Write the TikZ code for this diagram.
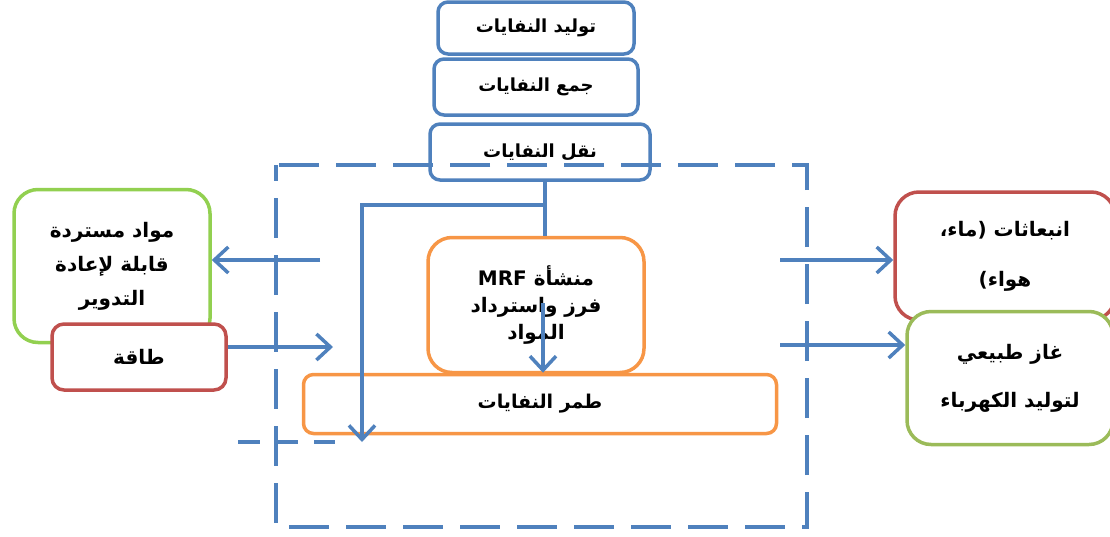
\documentclass[tikz,border=0pt]{standalone}
\usepackage{fontspec}
\newfontfamily\arabicfont[Script=Arabic]{DejaVu Sans}
\TeXXeTstate=1
\usetikzlibrary{arrows.meta, positioning}
\definecolor{procblue}{HTML}{4F81BD}
\definecolor{mrforange}{HTML}{F79646}
\definecolor{outred}{HTML}{C0504D}
\definecolor{recgreen}{HTML}{92D050}
\definecolor{gasgreen}{HTML}{9BBB59}

\begin{document}
\begin{tikzpicture}[
    x=1pt, y=-1pt,
    box/.style  ={draw, line width=3.5pt, fill=white, align=center,
                  inner sep=0pt, font=\arabicfont\bfseries\fontsize{18}{20}\selectfont},
    stage/.style={box, draw=procblue, rounded corners=10pt},
    plant/.style={box, draw=mrforange, font=\arabicfont\bfseries\fontsize{20}{33}\selectfont},
    side/.style ={box, rounded corners=24pt, font=\arabicfont\bfseries\fontsize{20}{38}\selectfont},
    boundary/.style={draw=procblue, line width=3.5pt, dash pattern=on 40pt off 17pt, dash phase=24pt},
    link/.style ={draw=procblue, line width=3.5pt},
    flow/.style ={link, -{Straight Barb[length=14pt,width=26pt]}},
]
\useasboundingbox (0,0) rectangle (1110,536);
% waste chain
\node[stage, minimum width=196pt, minimum height=52pt] (generation) at (536,28)
  {\beginR توليد النفايات\endR};
\node[stage, minimum width=204pt, minimum height=56pt] (collection) at (536,87)
  {\beginR جمع النفايات\endR};
\node[stage, minimum width=220pt, minimum height=56pt] (transport) at (540,152)
  {\beginR نقل النفايات\endR};
% system boundary
\draw[boundary] (276,165) rectangle (807,527);
\draw[boundary, dash pattern=on 22pt off 16pt, dash phase=0pt] (238,442) -- (335,442);
% facility and landfill
\node[plant, rounded corners=24pt, minimum width=216pt, minimum height=135pt] (mrf) at (536,305)
  {\beginR منشأة \beginL MRF\endL\endR\\[-6pt]
   \beginR فرز واسترداد\endR\\[-6pt]
   \beginR المواد\endR};
\node[plant, rounded corners=10pt, minimum width=473pt, minimum height=59pt,
      font=\arabicfont\bfseries\fontsize{19}{20}\selectfont] (landfill) at (540,404)
  {\beginR طمر النفايات\endR};
% inputs and outputs
\node[side, draw=recgreen, minimum width=196pt, minimum height=153pt] (recycle) at (112,266)
  {\beginR مواد مستردة\endR\\[-4pt] \beginR قابلة لإعادة\endR\\[-4pt] \beginR التدوير\endR};
\node[side, draw=outred, rounded corners=12pt, minimum width=174pt, minimum height=66pt] (energy) at (139,357)
  {\beginR طاقة\endR};
\node[side, draw=outred, minimum width=220pt, minimum height=128pt] (emission) at (1005,256)
  {\beginR انبعاثات (ماء،\endR\\[12pt] \beginR هواء)\endR};
\node[side, draw=gasgreen, minimum width=206pt, minimum height=133pt] (gas) at (1010,378)
  {\beginR غاز طبيعي\endR\\[10pt] \beginR لتوليد الكهرباء\endR};
% connectors
\coordinate (split) at (545,205);
\coordinate (dropL) at (362,442);
\coordinate (sortA) at (543,303);
\coordinate (recIn) at (320,260);
\coordinate (enOut) at (333,347);
\coordinate (emIn) at (780,260);
\coordinate (gasIn) at (780,345);
\draw[link] (transport.south -| split) -- (mrf.north -| split);
\draw[flow] (split) -| (dropL);
\draw[flow] (sortA) -- (sortA |- landfill.north);
\draw[flow] (recIn) -- (recIn -| recycle.east);
\draw[flow] (energy.east |- enOut) -- (enOut);
\draw[flow] (emIn) -- (emIn -| emission.west);
\draw[flow] (gasIn) -- (gasIn -| gas.west);
\end{tikzpicture}
\end{document}
